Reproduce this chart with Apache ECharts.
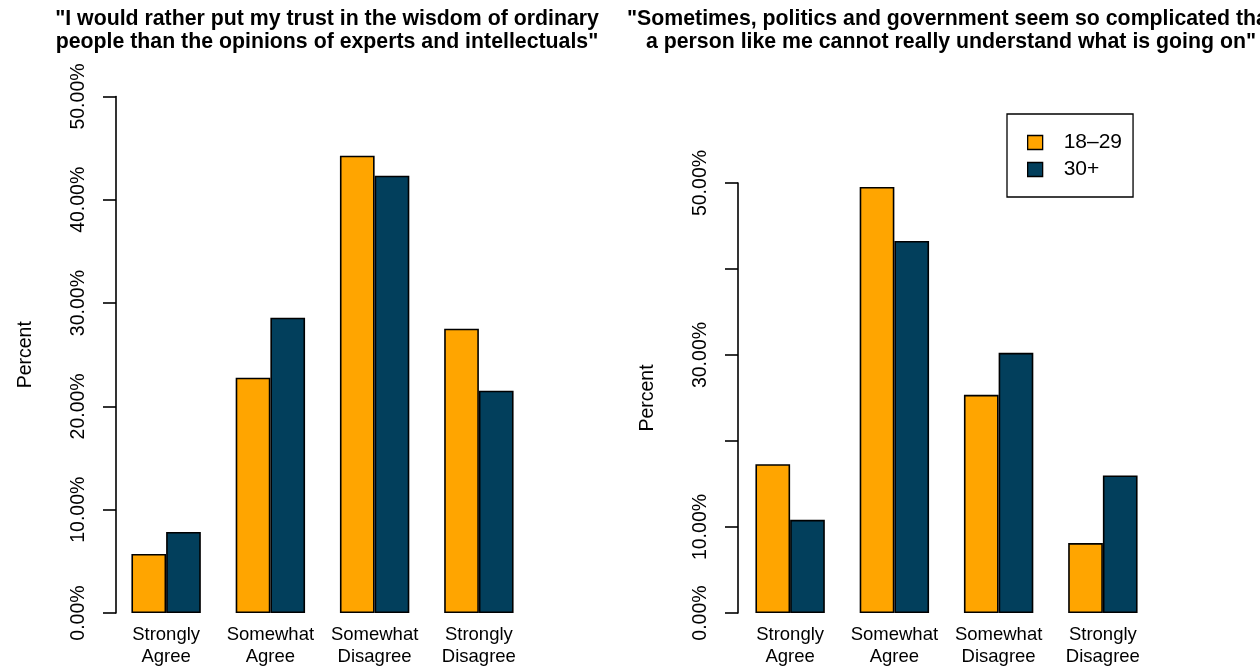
<!DOCTYPE html>
<html>
<head>
<meta charset="utf-8">
<style>
html,body{margin:0;padding:0;background:#fff;}
#chart{width:1260px;height:666px;}
</style>
<script src="https://cdn.jsdelivr.net/npm/echarts@6/dist/echarts.min.js"></script>
</head>
<body>
<div id="chart"></div>
<script>
var categories = ['Strongly\nAgree', 'Somewhat\nAgree', 'Somewhat\nDisagree', 'Strongly\nDisagree'];
var groups = ['18\u201329', '30+'];
var trustYoung = [5.71, 22.78, 44.27, 27.52];
var trustOld = [7.84, 28.59, 42.33, 21.52];
var complexYoung = [17.31, 49.54, 25.37, 8.13];
var complexOld = [10.84, 43.26, 30.25, 15.99];
var yTicksLeft = [0, 10, 20, 30, 40, 50];
var yTicksRightLabeled = [0, 10, 30, 50];
var titleLeft = '"I would rather put my trust in the wisdom of ordinary\npeople than the opinions of experts and intellectuals"';
var titleRight = '"Sometimes, politics and government seem so complicated that\na person like me cannot really understand what is going on"';

var FONT = '"Liberation Sans", Arial, Helvetica, sans-serif';
var ORANGE = '#FFA500';
var NAVY = '#023F5C';

var chart = echarts.init(document.getElementById('chart'), null, {renderer: 'canvas'});

function valueAxis(gridIndex, labeled, offset) {
  return {
    type: 'value', gridIndex: gridIndex, min: 0, max: 50, interval: 10, offset: offset,
    name: 'Percent', nameLocation: 'middle', nameGap: 80,
    nameTextStyle: {fontFamily: FONT, fontSize: 19.5, color: '#000'},
    axisLine: {show: true, lineStyle: {color: '#000', width: 1.6}},
    axisTick: {show: true, length: 13, lineStyle: {color: '#000', width: 1.6}},
    splitLine: {show: false},
    axisLabel: {
      rotate: 90, margin: 27, fontFamily: FONT, fontSize: 19.5, color: '#000',
      formatter: function (v) {
        if (labeled.indexOf(v) < 0) return '';
        return v.toFixed(2) + '%';
      }
    }
  };
}
function catAxis(gridIndex) {
  return {
    type: 'category', gridIndex: gridIndex, data: categories,
    axisLine: {show: false}, axisTick: {show: false},
    axisLabel: {margin: 11, fontFamily: FONT, fontSize: 18.5, color: '#000', lineHeight: 22, interval: 0}
  };
}
function barSeries(name, xi, data, color) {
  return {
    name: name, type: 'bar', xAxisIndex: xi, yAxisIndex: xi, data: data,
    barWidth: 34.7, barGap: '0%',
    itemStyle: {color: color, borderColor: '#000', borderWidth: 1.6},
    emphasis: {disabled: true}
  };
}

chart.setOption({
  animation: false,
  backgroundColor: '#fff',
  title: [
    {text: titleLeft, left: 322, top: 3, textAlign: 'center',
     textStyle: {fontFamily: FONT, fontSize: 21.3, fontWeight: 'bold', color: '#000', lineHeight: 23}},
    {text: titleRight, left: 946, top: 3, textAlign: 'center',
     textStyle: {fontFamily: FONT, fontSize: 21.3, fontWeight: 'bold', color: '#000', lineHeight: 23}}
  ],
  legend: {
    data: groups, orient: 'vertical', left: 1007, top: 114,
    borderColor: '#000', borderWidth: 1.3, borderRadius: 0,
    padding: [18, 11, 17, 20], itemGap: 6, itemWidth: 15, itemHeight: 14,
    icon: 'rect',
    itemStyle: {borderColor: '#000', borderWidth: 1.3},
    textStyle: {fontFamily: FONT, fontSize: 21, lineHeight: 21, color: '#000', padding: [0, 0, 0, 16]},
    selectedMode: false
  },
  grid: [
    {left: 114, width: 417, top: 96.5, bottom: 53, containLabel: false, outerBoundsMode: 'none'},
    {left: 738, width: 417, top: 183, bottom: 53, containLabel: false, outerBoundsMode: 'none'}
  ],
  xAxis: [catAxis(0), catAxis(1)],
  yAxis: [valueAxis(0, yTicksLeft, -2), valueAxis(1, yTicksRightLabeled, 0)],
  series: [
    barSeries(groups[0], 0, trustYoung, ORANGE),
    barSeries(groups[1], 0, trustOld, NAVY),
    barSeries(groups[0], 1, complexYoung, ORANGE),
    barSeries(groups[1], 1, complexOld, NAVY)
  ]
});
</script>
</body>
</html>
